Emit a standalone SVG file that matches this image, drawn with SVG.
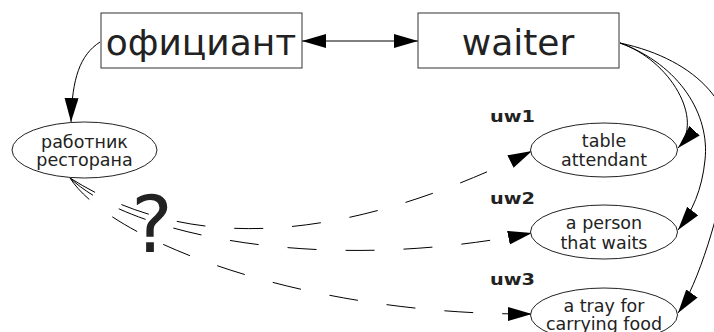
<svg xmlns="http://www.w3.org/2000/svg" width="714" height="332" viewBox="0 0 714 332">
  <style>
    .box { fill: #ffffff; stroke: #333333; stroke-width: 1; }
    .oval { fill: #ffffff; stroke: #222222; stroke-width: 1; }
    .big { font-family: "DejaVu Sans", Verdana, sans-serif; font-size: 36px; fill: #222222; text-anchor: middle; }
    .lbl { font-family: "DejaVu Sans", Verdana, sans-serif; font-size: 17.5px; fill: #222222; text-anchor: middle; }
    .tag { font-family: "DejaVu Sans", Verdana, sans-serif; font-size: 16px; font-weight: bold; fill: #222222; }
    .q { font-family: "DejaVu Sans", Verdana, sans-serif; font-size: 78px; fill: #222222; text-anchor: middle; }
    .link { fill: none; stroke: #000000; stroke-width: 1; }
    .dash { fill: none; stroke: #000000; stroke-width: 1; stroke-dasharray: 29 29; }
  </style>
  <defs>
    <marker id="arrow" markerUnits="userSpaceOnUse" markerWidth="26" markerHeight="16" refX="24" refY="7" orient="auto-start-reverse">
      <path d="M0,0 L24,7 L0,14 Z" fill="#000000"/>
    </marker>
  </defs>

  <!-- connectors -->
  <g id="connectors">
    <path class="link" d="M302,41 L418,41" marker-start="url(#arrow)" marker-end="url(#arrow)"/>
    <path class="link" d="M100,42 C80,55 72,78 71,122" marker-end="url(#arrow)"/>
    <path class="link" d="M620,43 C670,60 705,120 678,148" marker-end="url(#arrow)"/>
    <path class="link" d="M620,43 C680,65 710,115 705,160 C702,190 692,212 678,230" marker-end="url(#arrow)"/>
    <path class="link" d="M620,43 C700,60 740,110 728,160 C721,210 698,285 678,313" marker-end="url(#arrow)"/>
    <path class="dash" d="M70,178 C160,235 300,265 532,151" marker-end="url(#arrow)"/>
    <path class="dash" d="M70,178 C130,235 320,275 532,233" marker-end="url(#arrow)"/>
    <path class="dash" d="M70,178 C110,240 300,315 532,314" marker-end="url(#arrow)"/>
  </g>

  <!-- nodes -->
  <g id="officiant">
    <rect class="box" x="101" y="13" width="201" height="55"/>
    <text class="big" x="201" y="55">официант</text>
  </g>
  <g id="waiter">
    <rect class="box" x="418" y="13" width="201" height="55"/>
    <text class="big" x="518" y="55">waiter</text>
  </g>
  <g id="restaurant-worker">
    <ellipse class="oval" cx="84.5" cy="150" rx="72.5" ry="28"/>
    <text class="lbl" x="84.5" y="148">работник</text>
    <text class="lbl" x="84.5" y="166">ресторана</text>
  </g>
  <g id="uw1">
    <text class="tag" x="490" y="122" textLength="45" lengthAdjust="spacingAndGlyphs">uw1</text>
    <ellipse class="oval" cx="604" cy="150" rx="73.5" ry="27"/>
    <text class="lbl" x="604" y="147">table</text>
    <text class="lbl" x="604" y="166">attendant</text>
  </g>
  <g id="uw2">
    <text class="tag" x="490" y="204" textLength="45" lengthAdjust="spacingAndGlyphs">uw2</text>
    <ellipse class="oval" cx="604" cy="232" rx="73.5" ry="27"/>
    <text class="lbl" x="604" y="229">a person</text>
    <text class="lbl" x="604" y="249">that waits</text>
  </g>
  <g id="uw3">
    <text class="tag" x="490" y="285" textLength="45" lengthAdjust="spacingAndGlyphs">uw3</text>
    <ellipse class="oval" cx="604" cy="315" rx="73.5" ry="27"/>
    <text class="lbl" x="604" y="312">a tray for</text>
    <text class="lbl" x="604" y="330">carrying food</text>
  </g>

  <text class="q" x="152" y="252">?</text>
</svg>
